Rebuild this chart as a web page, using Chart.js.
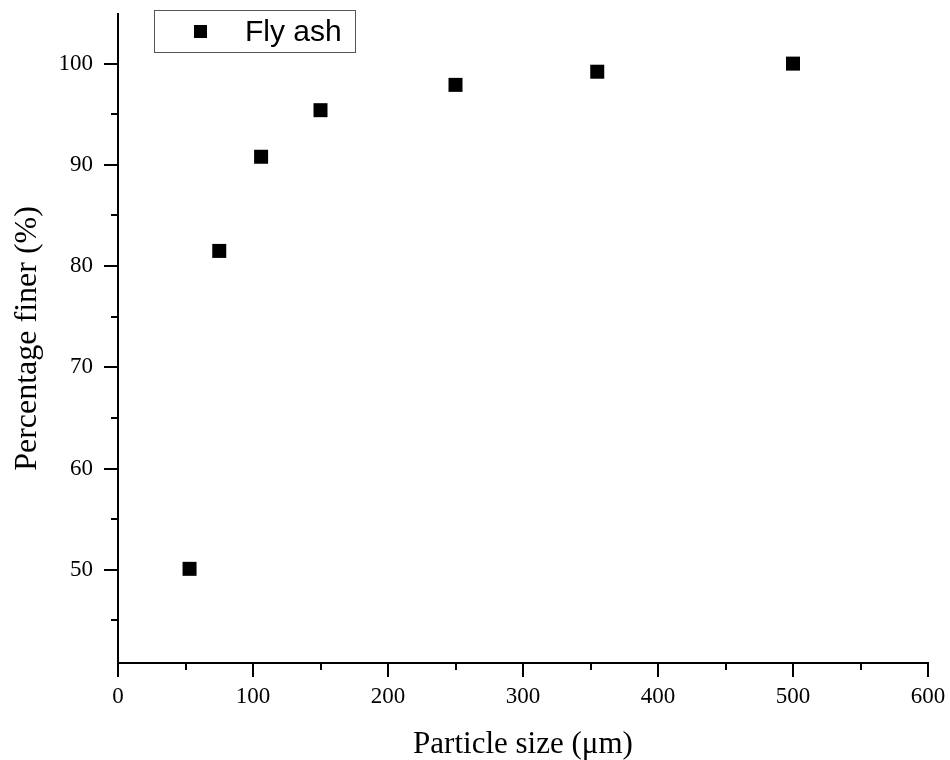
<!DOCTYPE html>
<html>
<head>
<meta charset="utf-8">
<script src="https://cdn.jsdelivr.net/npm/chart.js@4"></script>
<style>
  body { margin: 0; background: #fff; }
  #wrap { width: 950px; height: 760px; }
</style>
</head>
<body>
<div id="wrap"><canvas id="chart"></canvas></div>
<script>
// particle size distribution of fly ash
const sizes = [53, 75, 106, 150, 250, 355, 500];
const finer = [50.1, 81.5, 90.8, 95.4, 97.9, 99.2, 100];
const xTicks = [0, 100, 200, 300, 400, 500, 600];
const yTicks = [50, 60, 70, 80, 90, 100];
const xMinor = [50, 150, 250, 350, 450, 550];
const yMinor = [45, 55, 65, 75, 85, 95];

const serif = "'Liberation Serif', 'Times New Roman', serif";

// draws tick marks (major + minor) and the legend box
const extras = {
    id: "extras",
    afterDraw(chart) {
        const ctx = chart.ctx;
        const x = chart.scales.x, y = chart.scales.y;
        ctx.save();
        ctx.strokeStyle = "#000";
        ctx.lineWidth = 2;
        ctx.beginPath();
        xTicks.forEach(v => {
            let px = Math.round(x.getPixelForValue(v));
            ctx.moveTo(px, y.bottom); ctx.lineTo(px, y.bottom + 14);
        });
        xMinor.forEach(v => {
            let px = Math.round(x.getPixelForValue(v));
            ctx.moveTo(px, y.bottom); ctx.lineTo(px, y.bottom + 7);
        });
        yTicks.forEach(v => {
            let py = Math.round(y.getPixelForValue(v));
            ctx.moveTo(x.left, py); ctx.lineTo(x.left - 14, py);
        });
        yMinor.forEach(v => {
            let py = Math.round(y.getPixelForValue(v));
            ctx.moveTo(x.left, py); ctx.lineTo(x.left - 7, py);
        });
        ctx.stroke();

        // legend
        ctx.lineWidth = 1;
        ctx.strokeStyle = "#555";
        ctx.strokeRect(154.5, 10.5, 201, 42);
        ctx.fillStyle = "#000";
        ctx.fillRect(194, 25, 13, 13);
        ctx.font = "30px 'Liberation Sans', Arial, sans-serif";
        ctx.textBaseline = "middle";
        ctx.fillText(chart.data.datasets[0].label, 245, 33);
        ctx.restore();
    }
};

new Chart(document.getElementById("chart"), {
    type: "scatter",
    data: {
        datasets: [{
            label: "Fly ash",
            data: sizes.map((s, i) => ({ x: s, y: finer[i] })),
            pointStyle: "rect",
            pointRadius: 9.9,
            pointHoverRadius: 9.9,
            backgroundColor: "#000",
            borderColor: "#000",
            borderWidth: 0
        }]
    },
    options: {
        responsive: true,
        maintainAspectRatio: false,
        animation: false,
        layout: { padding: { top: 14, right: 22, left: 0, bottom: 0 } },
        plugins: {
            legend: { display: false },
            tooltip: { enabled: false }
        },
        scales: {
            x: {
                type: "linear",
                min: 0,
                max: 600,
                afterBuildTicks: s => { s.ticks = xTicks.map(v => ({ value: v })); },
                afterFit: s => { s.height = 97; s.paddingLeft = 0; s.paddingRight = 0; },
                grid: { display: false },
                border: { color: "#000", width: 2 },
                ticks: {
                    color: "#000",
                    padding: 12,
                    maxRotation: 0,
                    font: { family: serif, size: 23 }
                },
                title: {
                    display: true,
                    text: "Particle size (μm)",
                    color: "#000",
                    padding: { top: 0, bottom: 0 },
                    font: { family: serif, size: 31, lineHeight: 1 }
                }
            },
            y: {
                type: "linear",
                min: 40.8,
                max: 104.9,
                afterBuildTicks: s => { s.ticks = yTicks.map(v => ({ value: v })); },
                afterFit: s => { s.width = 118; s.paddingTop = 0; s.paddingBottom = 0; },
                grid: { display: false },
                border: { color: "#000", width: 2 },
                ticks: {
                    color: "#000",
                    padding: 17,
                    font: { family: serif, size: 23 }
                },
                title: {
                    display: true,
                    text: "Percentage finer (%)",
                    color: "#000",
                    padding: { top: 12, bottom: 0 },
                    font: { family: serif, size: 32, lineHeight: 1 }
                }
            }
        }
    },
    plugins: [extras]
});
</script>
</body>
</html>
